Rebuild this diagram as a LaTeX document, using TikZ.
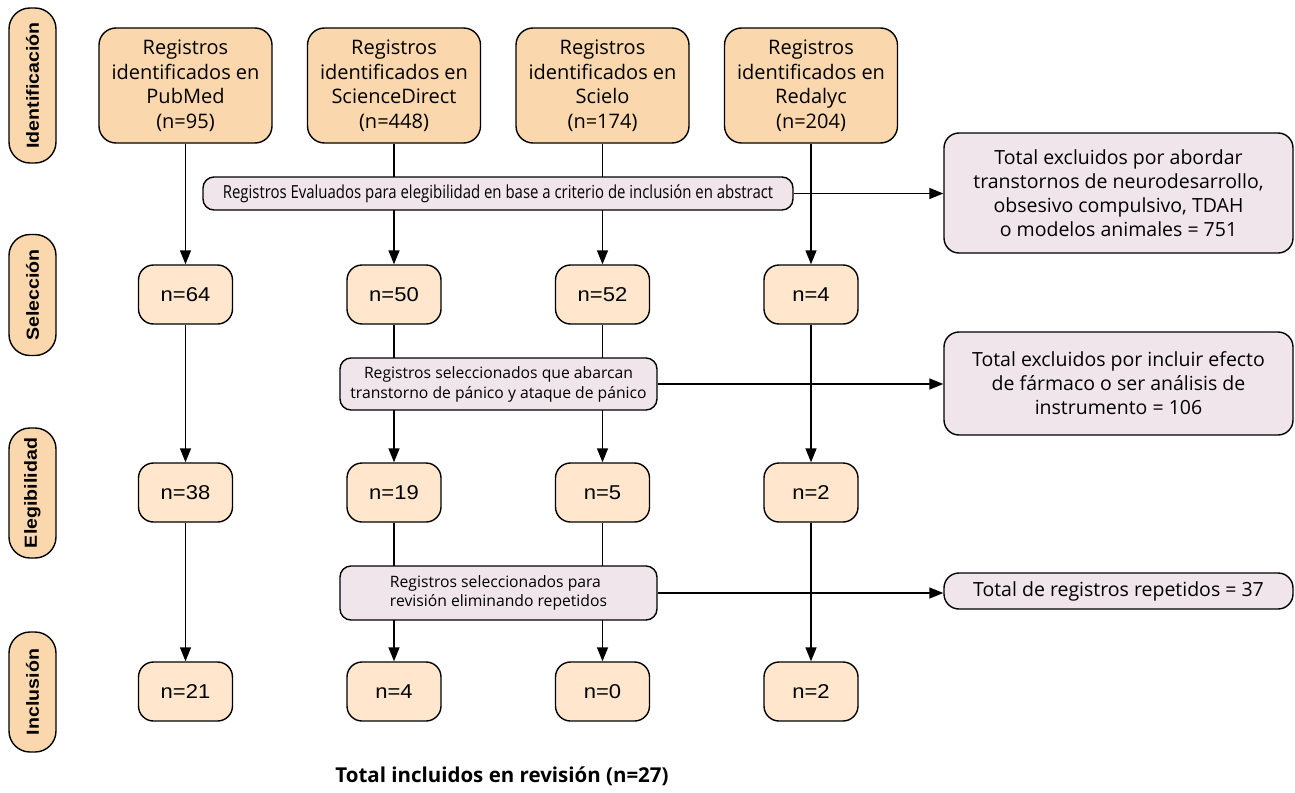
\documentclass[tikz,border=0pt]{standalone}
\usepackage{fontspec}
\setmainfont{Open Sans}
\newfontfamily\arialf[FakeStretch=1.1]{Liberation Sans}
\newfontfamily\arialw[FakeStretch=1.12]{Liberation Sans}
\newfontfamily\condf[FakeStretch=0.83]{Open Sans}
\usetikzlibrary{arrows.meta}
\definecolor{orgA}{HTML}{FAD7AC}
\definecolor{orgB}{HTML}{FFE6CC}
\definecolor{pinkbox}{HTML}{F1E5EC}
\begin{document}
\begin{tikzpicture}[x=1pt,y=-1pt,
  every node/.style={inner sep=0pt, align=center, line width=1.4pt},
  src/.style={draw, fill=orgA, rounded corners=17pt, minimum width=173pt, minimum height=115pt, font=\fontsize{20}{24.5}\selectfont},
  cnt/.style={draw, fill=orgB, rounded corners=15pt, minimum width=94pt, minimum height=59pt, font=\arialf\fontsize{20}{22}\selectfont},
  phase/.style={draw, fill=orgA, rounded corners=21pt, minimum height=47pt, rotate=90, font=\arialw\bfseries\fontsize{17.5}{20}\selectfont},
  pbox/.style={draw, fill=pinkbox, rounded corners=11pt},
  excl/.style={draw, fill=pinkbox, rounded corners=15pt, minimum width=349pt, font=\fontsize{19.5}{24}\selectfont},
  arr/.style={-{Triangle[length=14pt,width=11pt]}, line width=1.4pt}]
\useasboundingbox (0,0) rectangle (1295,792);

% phase labels
\node[phase, minimum width=155pt] (ph1) at (32.5,85.5) {Identificación};
\node[phase, minimum width=121pt] (ph2) at (32.5,295) {Selección};
\node[phase, minimum width=130pt] (ph3) at (32.5,493) {Elegibilidad};
\node[phase, minimum width=120pt] (ph4) at (32.5,692) {Inclusión};

% sources
\node[src] (s1) at (185.5,85.5) {Registros\\identificados en\\PubMed\\(n=95)};
\node[src] (s2) at (394,85.5) {Registros\\identificados en\\ScienceDirect\\(n=448)};
\node[src] (s3) at (602.5,85.5) {Registros\\identificados en\\Scielo\\(n=174)};
\node[src] (s4) at (811,85.5) {Registros\\identificados en\\Redalyc\\(n=204)};

% counts
\node[cnt] (a1) at (185.5,294.5) {n=64};
\node[cnt] (a2) at (394,294.5) {n=50};
\node[cnt] (a3) at (602.5,294.5) {n=52};
\node[cnt] (a4) at (811,294.5) {n=4};
\node[cnt] (b1) at (185.5,492.5) {n=38};
\node[cnt] (b2) at (394,492.5) {n=19};
\node[cnt] (b3) at (602.5,492.5) {n=5};
\node[cnt] (b4) at (811,492.5) {n=2};
\node[cnt] (c1) at (185.5,691.5) {n=21};
\node[cnt] (c2) at (394,691.5) {n=4};
\node[cnt] (c3) at (602.5,691.5) {n=0};
\node[cnt] (c4) at (811,691.5) {n=2};

\foreach \i in {1,2,3,4}{
  \draw[arr] (s\i) -- (a\i);
  \draw[arr] (a\i) -- (b\i);
  \draw[arr] (b\i) -- (c\i);
}

% process boxes
\node[pbox, minimum width=590pt, minimum height=33pt, font=\condf\fontsize{18}{20}\selectfont] (g1) at (498,193.5)
  {Registros Evaluados para elegibilidad en base a criterio de inclusión en abstract};
\node[pbox, minimum width=317pt, minimum height=52pt, font=\fontsize{15.7}{20}\selectfont] (g2) at (498.5,384)
  {Registros seleccionados que abarcan\\transtorno de pánico y ataque de pánico};
\node[pbox, minimum width=317pt, minimum height=54pt, font=\fontsize{15.7}{19.5}\selectfont, align=left] (g3) at (498.5,593)
  {Registros seleccionados para\\revisión eliminando repetidos};

% exclusion boxes
\node[excl, minimum height=120pt] (e1) at (1118.5,193)
  {Total excluidos por abordar\\transtornos de neurodesarrollo,\\obsesivo compulsivo, TDAH\\o modelos animales = 751};
\node[excl, minimum height=103pt] (e2) at (1118.5,383.5)
  {Total excluidos por incluir efecto\\de fármaco o ser análisis de\\instrumento = 106};
\node[excl, minimum height=36pt] (e3) at (1118.5,591)
  {Total de registros repetidos = 37};

\draw[arr] (g1.east) -- (g1.east -| e1.west);
\draw[arr] (g2.east) -- (g2.east -| e2.west);
\draw[arr] (g3.east) -- (g3.east -| e3.west);

\node[font=\bfseries\fontsize{20.5}{22}\selectfont] (tot) at (502,776) {Total incluidos en revisión (n=27)};
\end{tikzpicture}
\end{document}
